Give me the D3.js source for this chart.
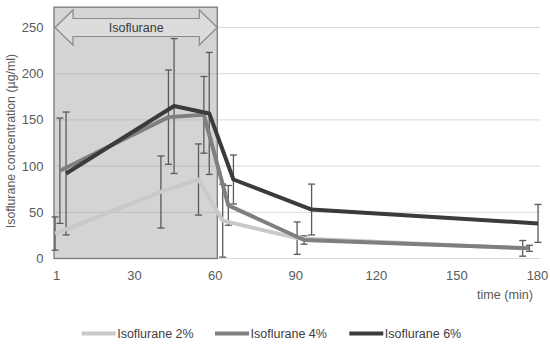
<!DOCTYPE html>
<html><head><meta charset="utf-8">
<script src="https://cdn.jsdelivr.net/npm/d3@7"></script>
<style>
html,body{margin:0;padding:0;background:#fff;}
svg{display:block;font-family:"Liberation Sans",Arial,sans-serif;}
</style></head>
<body><svg id="c" width="550" height="344"></svg>
<script>
// ---- data ----
const seriesNames = ["Isoflurane 2%", "Isoflurane 4%", "Isoflurane 6%"];
const seriesColors = ["#c9c9c9", "#7f7f7f", "#3b3b3b"];
const times2 = [0.4, 39.8, 53.8, 62.8, 90.5, 174.5];
const values2 = [27, 72, 85.5, 41, 22, 11];
const errors2 = [18, 39, 38.5, 39.5, 17.5, 8.5];
const times4 = [2.2, 42.6, 55.8, 64.9, 93.1, 177];
const values4 = [95, 153, 155.5, 57.5, 20, 11];
const errors4 = [57, 51, 41.5, 21.5, 4.5, 3.3];
const times6 = [4.5, 44.7, 57.8, 66.8, 95.9, 180.2];
const values6 = [92, 165, 157, 85.5, 53, 38];
const errors6 = [66.5, 73, 66, 26.5, 27.5, 20.5];
const xTickValues = [1, 30, 60, 90, 120, 150, 180];
const yTickValues = [0, 50, 100, 150, 200, 250];
const exposureStart = 0, exposureEnd = 60.8, exposureTop = 272;
const gridEnd = 181;
const exposureLabel = "Isoflurane";
const yTitle = "Isoflurane concentration (µg/ml)";
const xTitle = "time (min)";

// ---- layout ----
const svg = d3.select("#c");
const x = d3.scaleLinear().domain([0, 180]).range([54, 537.5]);
const y = d3.scaleLinear().domain([0, 250]).range([258.5, 27.5]);

const series = [
  {name: seriesNames[0], color: seriesColors[0], pts: times2.map((t,i)=>({t, v: values2[i], e: errors2[i]}))},
  {name: seriesNames[1], color: seriesColors[1], pts: times4.map((t,i)=>({t, v: values4[i], e: errors4[i]}))},
  {name: seriesNames[2], color: seriesColors[2], pts: times6.map((t,i)=>({t, v: values6[i], e: errors6[i]}))}
];

// gridlines
svg.append("g").selectAll("line").data(yTickValues).join("line")
  .attr("x1", x(0)).attr("x2", x(gridEnd))
  .attr("y1", d => y(d)).attr("y2", d => y(d))
  .attr("stroke", "#d9d9d9").attr("stroke-width", 1);

// exposure box
svg.append("rect")
  .attr("x", x(exposureStart)).attr("y", y(exposureTop))
  .attr("width", x(exposureEnd) - x(exposureStart))
  .attr("height", y(0) - y(exposureTop))
  .attr("fill", "#a0a0a0").attr("fill-opacity", 0.45)
  .attr("stroke", "#7a7a7a").attr("stroke-width", 1.3);

// double arrow
{
  const x0 = x(exposureStart) + 1, x1 = x(exposureEnd);
  const cy = y(250), sh = 9, hh = 17.5, hl = 18;
  const pts = [
    [x0, cy], [x0 + hl, cy - hh], [x0 + hl, cy - sh], [x1 - hl, cy - sh], [x1 - hl, cy - hh],
    [x1, cy], [x1 - hl, cy + hh], [x1 - hl, cy + sh], [x0 + hl, cy + sh], [x0 + hl, cy + hh]
  ];
  svg.append("path").attr("d", d3.line()(pts) + "Z")
    .attr("fill", "#dcdcdc").attr("stroke", "#8a8a8a").attr("stroke-width", 1.2);
  svg.append("text").attr("x", (x0 + x1) / 2).attr("y", cy)
    .attr("text-anchor", "middle").attr("dominant-baseline", "central")
    .attr("font-size", 12.5).attr("fill", "#3a3a3a").text(exposureLabel);
}

// y tick labels
svg.append("g").selectAll("text").data(yTickValues).join("text")
  .attr("x", 43.5).attr("y", d => y(d)).attr("dy", "0.35em")
  .attr("text-anchor", "end").attr("font-size", 13).attr("fill", "#595959")
  .text(d => d);

// x tick labels
svg.append("g").selectAll("text").data(xTickValues).join("text")
  .attr("x", d => x(d)).attr("y", 275.7).attr("dy", "0.35em")
  .attr("text-anchor", "middle").attr("font-size", 13).attr("fill", "#595959")
  .text(d => d);

// titles
svg.append("text").attr("transform", "translate(11,141) rotate(-90)")
  .attr("text-anchor", "middle").attr("dominant-baseline", "central")
  .attr("font-size", 12.4).attr("fill", "#595959").text(yTitle);
svg.append("text").attr("x", 533).attr("y", 295).attr("dy", "0.35em")
  .attr("text-anchor", "end").attr("font-size", 12.6).attr("fill", "#595959").text(xTitle);

// error bars
const cap = 3.5;
series.forEach(s => {
  const g = svg.append("g").attr("stroke", "#5a5a5a").attr("stroke-width", 1.3).attr("fill", "none");
  s.pts.forEach(p => {
    const cx = x(p.t), yt = y(p.v + p.e), yb = y(Math.max(0, p.v - p.e));
    g.append("line").attr("x1", cx).attr("x2", cx).attr("y1", yt).attr("y2", yb);
    g.append("line").attr("x1", cx - cap).attr("x2", cx + cap).attr("y1", yt).attr("y2", yt);
    g.append("line").attr("x1", cx - cap).attr("x2", cx + cap).attr("y1", yb).attr("y2", yb);
  });
});

// lines
const line = d3.line().x(d => x(d.t)).y(d => y(d.v));
series.forEach(s => {
  svg.append("path").datum(s.pts).attr("d", line)
    .attr("fill", "none").attr("stroke", s.color).attr("stroke-width", 4)
    .attr("stroke-linejoin", "round").attr("stroke-linecap", "butt");
});

// legend
const legendX = [81.7, 215, 349.3];
const lg = svg.append("g");
series.forEach((s, i) => {
  lg.append("line").attr("x1", legendX[i]).attr("x2", legendX[i] + 34)
    .attr("y1", 333.5).attr("y2", 333.5)
    .attr("stroke", s.color).attr("stroke-width", 4);
  lg.append("text").attr("x", legendX[i] + 35.5).attr("y", 333.5).attr("dy", "0.35em")
    .attr("font-size", 12.5).attr("fill", "#404040").text(s.name);
});
</script></body></html>
